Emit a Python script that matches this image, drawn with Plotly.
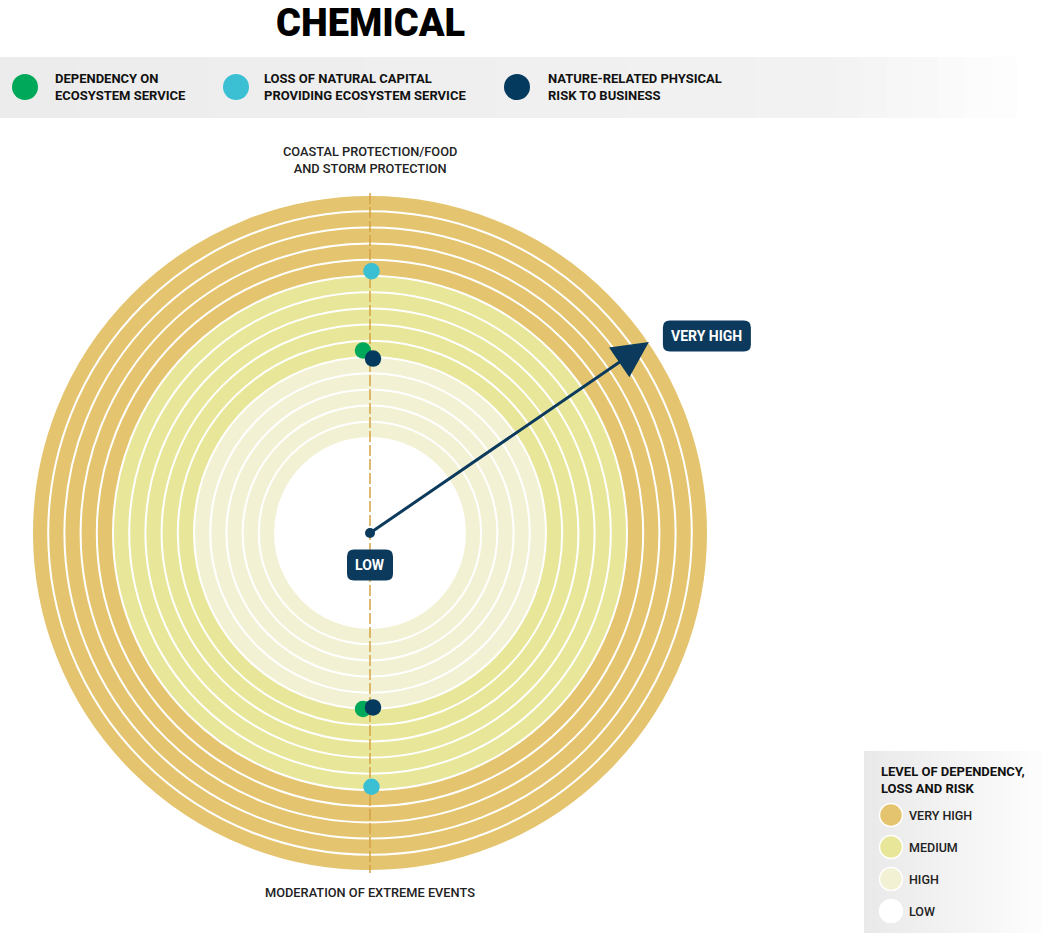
import numpy as np
import plotly.graph_objects as go

W, H = 1043, 933

# ---------------- data ----------------
TITLE = "CHEMICAL"
SERVICES = ["COASTAL PROTECTION/FOOD<br>AND STORM PROTECTION", "MODERATION OF EXTREME EVENTS"]
SERVICE_ANGLES = [0, 180]          # degrees, clockwise from 12 o'clock
SERIES_NAMES = [
    "DEPENDENCY ON<br>ECOSYSTEM SERVICE",
    "LOSS OF NATURAL CAPITAL<br>PROVIDING ECOSYSTEM SERVICE",
    "NATURE-RELATED PHYSICAL<br>RISK TO BUSINESS",
]
# scores on a 0-15 ring scale (0 = edge of the LOW centre, 15 = outer edge)
DEPENDENCY = [5.4, 5.0]
LOSS = [10.3, 9.8]
RISK = [4.9, 4.9]
LEVEL_NAMES = ["VERY HIGH", "MEDIUM", "HIGH", "LOW"]
BAND_LEVELS = ["HIGH", "MEDIUM", "VERY HIGH"]   # inner band -> outer band
RINGS_PER_BAND = 5
SCALE_MAX = 15
ARROW_LABELS = ["LOW", "VERY HIGH"]

# ---------------- style ----------------
FONT = "Roboto, Arial, sans-serif"
LEVEL_COLORS = {"VERY HIGH": "#E4C46F", "MEDIUM": "#E8E698", "HIGH": "#F3F1D3", "LOW": "#FFFFFF"}
SERIES_COLORS = ["#00A85A", "#3BBFD3", "#033A5D"]
SERIES_DX = [-7, 1.5, 3]            # small horizontal nudges (px) so markers don't hide each other
NAVY = "#0B3A5C"
AXIS_LINE = "#D3A444"

RING_PX = 16.2                      # pixels per ring
HOLE = 95 / RING_PX                 # radius of the white centre, in ring units
CX, CY = 370, 533                   # centre of the target in pixels
ARROW_ANGLE = 55.6                  # degrees clockwise from 12 o'clock
OUTER = HOLE + SCALE_MAX


def px(v):
    return v / RING_PX


def paper_x(x):
    return x / W


def paper_y(y):
    return 1 - y / H


def rounded_rect(cx, cy, w, h, r):
    """SVG path (data units) for a rounded rectangle given pixel sizes."""
    w, h, r = px(w) / 2, px(h) / 2, px(r)
    x0, x1, y0, y1 = cx - w, cx + w, cy - h, cy + h
    return (f"M{x0 + r},{y0} L{x1 - r},{y0} Q{x1},{y0} {x1},{y0 + r} "
            f"L{x1},{y1 - r} Q{x1},{y1} {x1 - r},{y1} L{x0 + r},{y1} "
            f"Q{x0},{y1} {x0},{y1 - r} L{x0},{y0 + r} Q{x0},{y0} {x0 + r},{y0} Z")


fig = go.Figure()
shapes = []
annotations = []

# concentric rings, outermost first
ring_count = RINGS_PER_BAND * len(BAND_LEVELS)
for k in range(ring_count, 0, -1):
    level = BAND_LEVELS[(k - 1) // RINGS_PER_BAND]
    r = HOLE + k
    shapes.append(dict(type="circle", xref="x", yref="y", x0=-r, x1=r, y0=-r, y1=r,
                       fillcolor=LEVEL_COLORS[level], line=dict(color="white", width=2),
                       layer="below"))
shapes.append(dict(type="circle", xref="x", yref="y", x0=-HOLE, x1=HOLE, y0=-HOLE, y1=HOLE,
                   fillcolor=LEVEL_COLORS["LOW"], line=dict(color="white", width=2), layer="below"))

# dashed service axis through the centre
theta = np.radians(SERVICE_ANGLES)
shapes.append(dict(type="line", xref="x", yref="y",
                   x0=OUTER * np.sin(theta[0]), y0=OUTER * np.cos(theta[0]) + px(2),
                   x1=OUTER * np.sin(theta[1]), y1=OUTER * np.cos(theta[1]) - px(2),
                   line=dict(color=AXIS_LINE, width=1.5, dash="11px,3px"), layer="below"))

# service labels
annotations.append(dict(x=0, y=OUTER, xref="x", yref="y", text=SERVICES[0], showarrow=False,
                        yanchor="bottom", yshift=17, align="center",
                        font=dict(family=FONT, size=12.8, color="#222", weight=500)))
annotations.append(dict(x=0, y=-OUTER, xref="x", yref="y", text=SERVICES[1], showarrow=False,
                        yanchor="top", yshift=-12, align="center",
                        font=dict(family=FONT, size=12.8, color="#222", weight=500)))

# series markers
for name, vals, col, dx in zip(SERIES_NAMES, [DEPENDENCY, LOSS, RISK], SERIES_COLORS, SERIES_DX):
    r = HOLE + np.array(vals)
    fig.add_trace(go.Scatter(
        x=r * np.sin(theta) + px(dx), y=r * np.cos(theta),
        mode="markers", name=name.replace("<br>", " "),
        marker=dict(size=16.5, color=col, line=dict(width=0)),
        showlegend=False, hoverinfo="skip"))

# LOW -> VERY HIGH arrow
tip_x = OUTER * np.sin(np.radians(ARROW_ANGLE))
tip_y = OUTER * np.cos(np.radians(ARROW_ANGLE))
annotations.append(dict(x=tip_x, y=tip_y, xref="x", yref="y", ax=0, ay=0, axref="x", ayref="y",
                        text="", showarrow=True, arrowhead=2, arrowsize=2.4, arrowwidth=3,
                        arrowcolor=NAVY, standoff=0, startstandoff=0))
fig.add_trace(go.Scatter(x=[0], y=[0], mode="markers", marker=dict(size=10, color=NAVY),
                         showlegend=False, hoverinfo="skip"))

# arrow end labels
low_c = (0, -px(32))
high_c = (tip_x + px(58), tip_y + px(6))
for (bx, by), label, bw in [(low_c, ARROW_LABELS[0], 46), (high_c, ARROW_LABELS[1], 88)]:
    shapes.append(dict(type="path", xref="x", yref="y", path=rounded_rect(bx, by, bw, 31, 7),
                       fillcolor=NAVY, line=dict(width=0), layer="above"))
    annotations.append(dict(x=bx, y=by, xref="x", yref="y", text=label, showarrow=False,
                            font=dict(family=FONT, size=14, color="white", weight="bold")))

# title
annotations.append(dict(x=paper_x(CX), y=paper_y(23), xref="paper", yref="paper", text=TITLE,
                        showarrow=False, xanchor="center", yanchor="middle",
                        font=dict(family=FONT, size=38, color="black", weight=900)))

# top series legend band (grey fading to white on the right)
n_strips = 40
for i in range(n_strips):
    x0 = W * i / n_strips
    x1 = W * (i + 1) / n_strips + 1
    t = i / (n_strips - 1)
    g = int(round(236 + 6 * min(t / 0.8, 1) + (13 * max(0, (t - 0.8) / 0.2))))
    g = min(g, 255)
    shapes.append(dict(type="rect", xref="paper", yref="paper",
                       x0=paper_x(x0), x1=paper_x(x1), y0=paper_y(118), y1=paper_y(57),
                       fillcolor=f"rgb({g},{g},{g})", line=dict(width=0), layer="below"))

legend_circle_x = [25, 236, 517]
legend_text_x = [53, 262, 546]
for name, col, cx, tx in zip(SERIES_NAMES, SERIES_COLORS, legend_circle_x, legend_text_x):
    shapes.append(dict(type="circle", xref="paper", yref="paper", xsizemode="pixel", ysizemode="pixel",
                       xanchor=paper_x(cx), yanchor=paper_y(87), x0=-13, x1=13, y0=-13, y1=13,
                       fillcolor=col, line=dict(width=0), layer="above"))
    annotations.append(dict(x=paper_x(tx), y=paper_y(87), xref="paper", yref="paper", text=name,
                            showarrow=False, xanchor="left", yanchor="middle", align="left",
                            font=dict(family=FONT, size=13, color="#111", weight="bold")))

# bottom-right level legend box
bx0, by0 = 864, 751
for i in range(n_strips):
    x0 = bx0 + (W - bx0) * i / n_strips
    x1 = bx0 + (W - bx0) * (i + 1) / n_strips + 1
    t = i / (n_strips - 1)
    g = int(round(233 + 20 * t))
    shapes.append(dict(type="rect", xref="paper", yref="paper",
                       x0=paper_x(x0), x1=paper_x(x1), y0=0, y1=paper_y(by0),
                       fillcolor=f"rgb({g},{g},{g})", line=dict(width=0), layer="below"))
annotations.append(dict(x=paper_x(879), y=paper_y(780), xref="paper", yref="paper",
                        text="LEVEL OF DEPENDENCY,<br>LOSS AND RISK", showarrow=False,
                        xanchor="left", yanchor="middle", align="left",
                        font=dict(family=FONT, size=13, color="#111", weight="bold")))
for j, lvl in enumerate(LEVEL_NAMES):
    yy = 815 + 32 * j
    shapes.append(dict(type="circle", xref="paper", yref="paper", xsizemode="pixel", ysizemode="pixel",
                       xanchor=paper_x(891), yanchor=paper_y(yy), x0=-11.5, x1=11.5, y0=-11.5, y1=11.5,
                       fillcolor=LEVEL_COLORS[lvl], line=dict(color="white", width=1.5), layer="above"))
    annotations.append(dict(x=paper_x(907), y=paper_y(yy), xref="paper", yref="paper", text=lvl,
                            showarrow=False, xanchor="left", yanchor="middle",
                            font=dict(family=FONT, size=12.5, color="#222", weight=500)))

fig.update_layout(
    width=W, height=H,
    margin=dict(l=0, r=0, t=0, b=0),
    paper_bgcolor="white", plot_bgcolor="white",
    xaxis=dict(range=[-px(CX), px(W - CX)], visible=False, domain=[0, 1], fixedrange=True),
    yaxis=dict(range=[-px(H - CY), px(CY)], visible=False, domain=[0, 1], fixedrange=True),
    shapes=shapes, annotations=annotations, showlegend=False,
)

fig.write_html("out.html")
